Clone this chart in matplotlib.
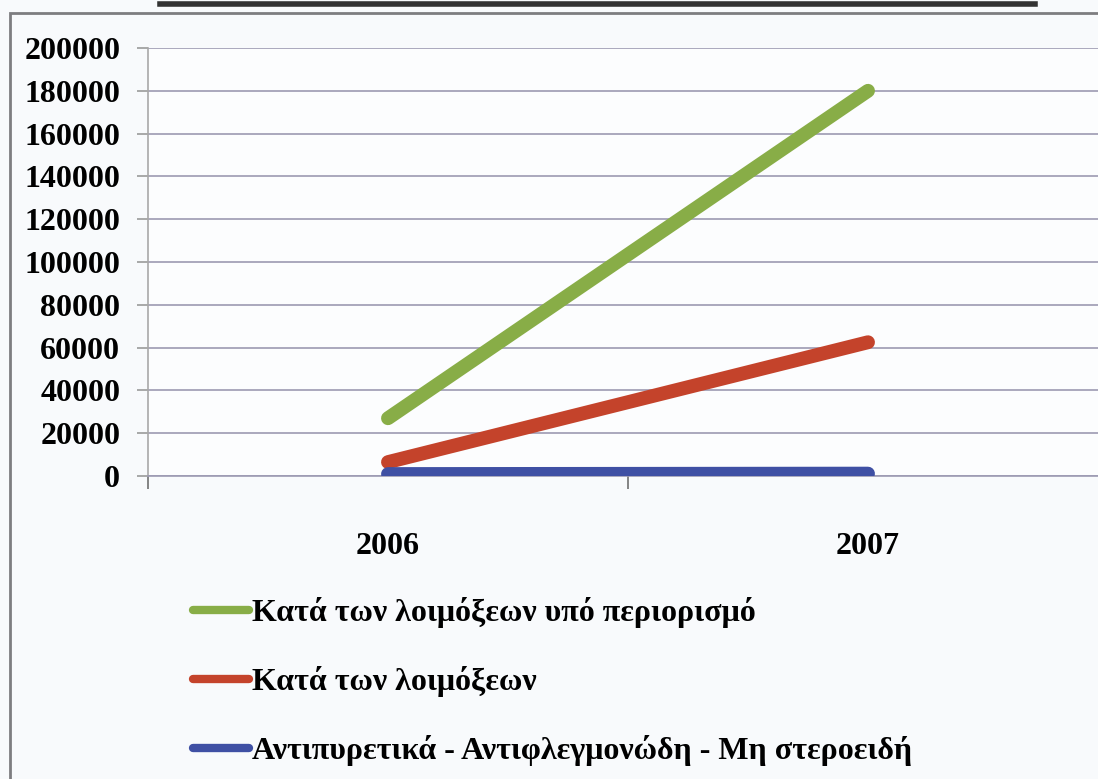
import matplotlib
matplotlib.use("Agg")
import matplotlib.pyplot as plt
from matplotlib.lines import Line2D
from matplotlib.patches import Rectangle

# Data
years = ["2006", "2007"]
series_names = [
    "Κατά των λοιμόξεων υπό περιορισμό",
    "Κατά των λοιμόξεων",
    "Αντιπυρετικά - Αντιφλεγμονώδη - Μη στεροειδή",
]
green_values = [27000, 180000]
red_values = [6500, 62500]
blue_values = [900, 1100]
y_ticks = [0, 20000, 40000, 60000, 80000, 100000, 120000, 140000, 160000, 180000, 200000]

colors = ["#88ad47", "#c4432b", "#3f50a4"]
grid_color = "#9c9ab2"
font = "Liberation Serif"

fig = plt.figure(figsize=(10.98, 7.79), dpi=100, facecolor="#f8fafc")

# outer chart frame
fig.patches.append(Rectangle((10 / 1098, -0.05), 1.2, 1 - 13 / 779 + 0.05,
                             transform=fig.transFigure, fill=False,
                             edgecolor="#7d7d80", linewidth=2.0))
# underline of the heading strip
fig.add_artist(Line2D([160 / 1098, 1035 / 1098], [1 - 4 / 779, 1 - 4 / 779],
                      transform=fig.transFigure, color="#333333", linewidth=4))

ax = fig.add_axes([148 / 1098, 1 - 476 / 779, 960 / 1098, 428 / 779])
ax.set_facecolor("#fcfdfe")

x = list(range(len(years)))
for vals, c in zip([green_values, red_values, blue_values], colors):
    ax.plot(x, vals, color=c, linewidth=10, solid_capstyle="round", zorder=3)

ax.set_xlim(-0.5, 1.5)
ax.set_ylim(0, 200000)
ax.set_yticks(y_ticks)
ax.set_yticklabels([str(v) for v in y_ticks], fontfamily=font,
                   fontweight="bold", fontsize=23)
ax.yaxis.grid(True, color=grid_color, linewidth=1.2)
ax.set_axisbelow(True)
ax.tick_params(axis="y", length=8, width=1.2, color="#9a9a9a", pad=12)

ax.set_xticks(x)
ax.set_xticklabels(years, fontfamily=font, fontweight="bold", fontsize=23)
ax.set_xticks([-0.5, 0.5, 1.5], minor=True)
ax.tick_params(axis="x", which="major", length=0, pad=40)
ax.tick_params(axis="x", which="minor", length=9, width=1.2, color="#707070")

for side in ["top", "right"]:
    ax.spines[side].set_visible(False)
ax.spines["left"].set_color("#a8a8a8")
ax.spines["left"].set_linewidth(1.2)
ax.spines["bottom"].set_color(grid_color)
ax.spines["bottom"].set_linewidth(1.2)

handles = [Line2D([0], [0], color=c, linewidth=6, solid_capstyle="round") for c in colors]
leg = fig.legend(handles, series_names, loc="upper left",
                 bbox_to_anchor=(164 / 1098, 1 - 568 / 779),
                 frameon=False, handlelength=1.75, handletextpad=0.1,
                 labelspacing=1.2, borderpad=0.4,
                 prop={"family": font, "weight": "bold", "size": 23})

fig.savefig("out.png", dpi=100, facecolor=fig.get_facecolor())
